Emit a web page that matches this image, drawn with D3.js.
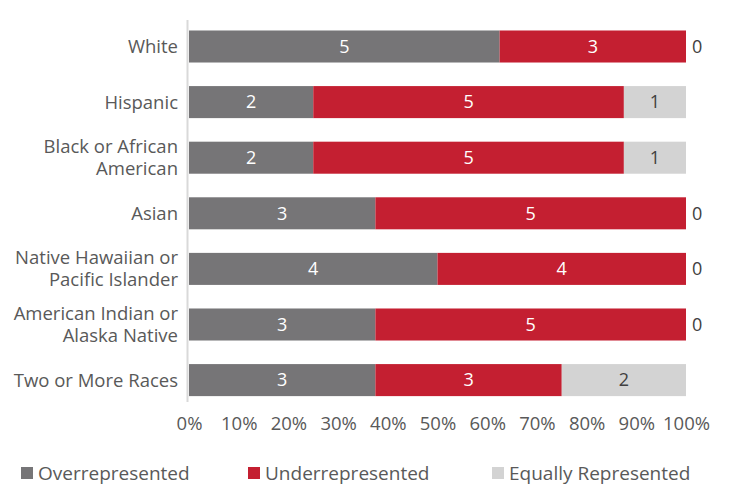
<!DOCTYPE html>
<html>
<head>
<meta charset="utf-8">
<script src="https://cdn.jsdelivr.net/npm/d3@7"></script>
<style>
  body { margin: 0; background: #fff; }
  svg text { font-family: "Open Sans", "Noto Sans", sans-serif; }
</style>
</head>
<body>
<div id="chart"></div>
<script>
const categories = [
  ["White"],
  ["Hispanic"],
  ["Black or African", "American"],
  ["Asian"],
  ["Native Hawaiian or", "Pacific Islander"],
  ["American Indian or", "Alaska Native"],
  ["Two or More Races"],
];
const seriesNames = ["Overrepresented", "Underrepresented", "Equally Represented"];
const overValues = [5, 2, 2, 3, 4, 3, 3];
const underValues = [3, 5, 5, 5, 4, 5, 3];
const equalValues = [0, 1, 1, 0, 0, 0, 2];
const tickValues = [0, 0.1, 0.2, 0.3, 0.4, 0.5, 0.6, 0.7, 0.8, 0.9, 1];

const colors = ["#767577", "#c41f31", "#d3d3d3"];
const labelColors = ["#ffffff", "#ffffff", "#404040"];

const width = 729, height = 485;
const svg = d3.select("#chart").append("svg")
  .attr("width", width).attr("height", height);

const keys = categories.map((c) => c.join(" "));
const rows = keys.map((k, i) => ({
  key: k,
  lines: categories[i],
  vals: [overValues[i], underValues[i], equalValues[i]],
}));

const xScale = d3.scaleLinear().domain([0, 1]).range([189, 686]);
const yScale = d3.scaleBand().domain(keys).range([18.7, 407.9])
  .paddingInner(0.424).paddingOuter(0.212);

// axis line
svg.append("line")
  .attr("x1", 187.5).attr("x2", 187.5)
  .attr("y1", 20).attr("y2", 402)
  .attr("stroke", "#d9d9d9").attr("stroke-width", 2);

// bars
rows.forEach((r) => {
  const total = d3.sum(r.vals);
  let cum = 0;
  const g = svg.append("g");
  r.vals.forEach((v, j) => {
    const x0 = cum / total;
    cum += v;
    const x1 = cum / total;
    if (v > 0) {
      g.append("rect")
        .attr("x", xScale(x0)).attr("y", yScale(r.key))
        .attr("width", xScale(x1) - xScale(x0))
        .attr("height", yScale.bandwidth())
        .attr("fill", colors[j]);
      g.append("text")
        .attr("x", (xScale(x0) + xScale(x1)) / 2)
        .attr("y", yScale(r.key) + yScale.bandwidth() / 2)
        .attr("dy", "0.35em")
        .attr("text-anchor", "middle")
        .attr("font-size", 18)
        .attr("fill", labelColors[j])
        .text(v);
    } else if (j === 2) {
      g.append("text")
        .attr("x", xScale(1) + 6)
        .attr("y", yScale(r.key) + yScale.bandwidth() / 2)
        .attr("dy", "0.35em")
        .attr("font-size", 18)
        .attr("fill", "#404040")
        .text(v);
    }
  });

  // category label
  const cy = yScale(r.key) + yScale.bandwidth() / 2;
  const lh = 22;
  r.lines.forEach((ln, k) => {
    svg.append("text")
      .attr("text-anchor", "end")
      .attr("font-size", 18.5)
      .attr("fill", "#595959")
      .attr("x", 178)
      .attr("y", cy + (k - (r.lines.length - 1) / 2) * lh)
      .attr("dy", "0.35em")
      .text(ln);
  });
});

// x axis tick labels
const xAxis = d3.axisBottom(xScale)
  .tickValues(tickValues)
  .tickFormat(d3.format(".0%"))
  .tickSize(0).tickPadding(0);
const ax = svg.append("g").attr("transform", "translate(0,417)").call(xAxis);
ax.select(".domain").remove();
ax.selectAll("text")
  .attr("font-size", 18.5)
  .attr("fill", "#595959")
  .style("font-family", "'Open Sans', 'Noto Sans', sans-serif");

// legend
const legendX = [21, 248, 492];
const lg = svg.append("g").attr("transform", "translate(0,473)");
seriesNames.forEach((name, i) => {
  lg.append("rect")
    .attr("x", legendX[i]).attr("y", -6)
    .attr("width", 12).attr("height", 12)
    .attr("fill", colors[i]);
  lg.append("text")
    .attr("x", legendX[i] + 17).attr("y", 0)
    .attr("dy", "0.35em")
    .attr("font-size", 19)
    .attr("fill", "#595959")
    .text(name);
});
</script>
</body>
</html>
